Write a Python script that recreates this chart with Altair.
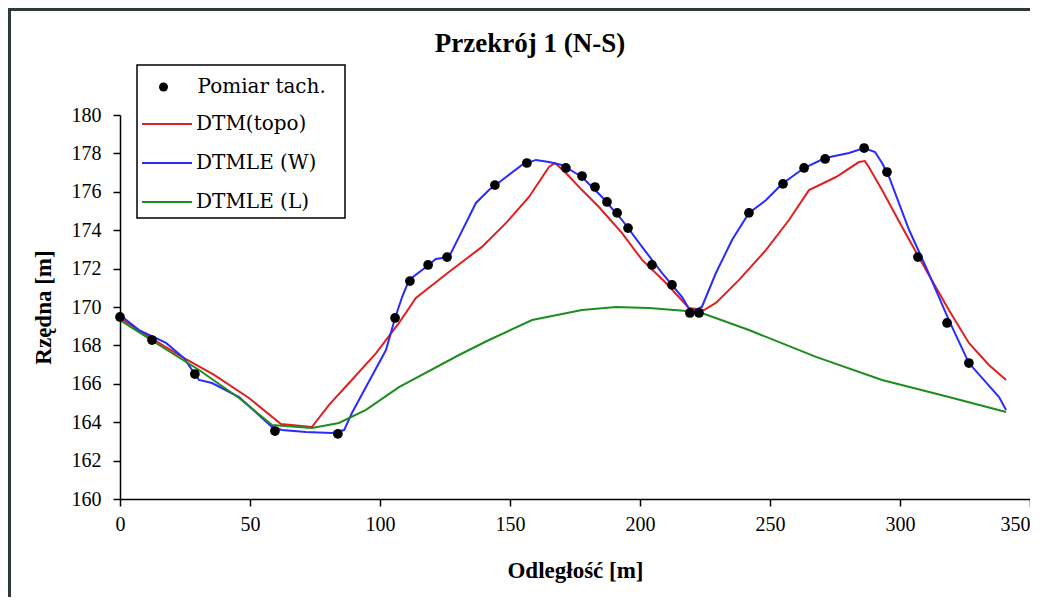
import altair as alt
import pandas as pd

title_text = "Przekrój 1 (N-S)"
x_title = "Odległość [m]"
y_title = "Rzędna [m]"
point_name = "Pomiar tach."
line_names = ["DTM(topo)", "DTMLE (W)", "DTMLE (L)"]
line_colors = ["#e02020", "#2a2aff", "#1e8c1e"]
x_ticks = [0, 50, 100, 150, 200, 250, 300, 350]
y_ticks = [160, 162, 164, 166, 168, 170, 172, 174, 176, 178, 180]

# Pomiar tach. (survey points)
pomiar_dist = [0, 12.3, 28.8, 59.6, 83.8, 105.8, 111.5, 118.5, 125.8, 144.2,
               156.5, 171.5, 177.7, 182.7, 187.3, 191.2, 195.4, 204.6, 212.3, 219.2,
               222.7, 241.9, 255.0, 263.1, 271.2, 286.2, 295.0, 306.9, 318.1, 326.5]
pomiar_elev = [169.48, 168.28, 166.51, 163.54, 163.39, 169.43, 171.35, 172.19, 172.6, 176.35,
               177.5, 177.24, 176.82, 176.25, 175.47, 174.9, 174.11, 172.19, 171.15, 169.69,
               169.69, 174.9, 176.41, 177.24, 177.71, 178.28, 177.03, 172.6, 169.17, 167.08]

# DTM(topo)
topo_dist = [0, 11.2, 23.8, 36.2, 49.6, 61.9, 73.8, 80.4, 88.1, 98.5,
             107.3, 113.8, 126.5, 139.2, 148.5, 157.3, 165.0, 167.3, 171.5, 177.7,
             184.2, 193.1, 200.8, 210.0, 218.8, 224.6, 229.2, 238.1, 248.5, 257.3,
             265.0, 275.4, 284.2, 286.5, 288.0, 293.1, 300.8, 310.0, 318.8, 326.5,
             334.2, 340.8]
topo_elev = [169.43, 168.44, 167.4, 166.46, 165.26, 163.9, 163.75, 164.9, 166.04, 167.6,
             169.17, 170.47, 171.82, 173.13, 174.38, 175.73, 177.29, 177.5, 176.98, 176.09,
             175.21, 173.85, 172.45, 171.25, 169.95, 169.84, 170.21, 171.41, 172.97, 174.53,
             176.09, 176.77, 177.55, 177.6, 177.29, 176.09, 174.17, 171.93, 169.84, 168.13,
             166.98, 166.2]

# DTMLE (W)
w_dist = [0, 7.3, 17.7, 24.6, 30.4, 35.4, 45.8, 58.5, 62.3, 71.5,
          81.5, 86.2, 89.2, 94.6, 102.3, 105.8, 108.5, 111.2, 117.7, 121.5,
          126.5, 130.4, 136.9, 141.9, 148.5, 154.6, 160.0, 165.0, 170.0, 177.7,
          185.4, 193.1, 200.8, 208.5, 216.2, 219.6, 223.8, 229.2, 235.4, 241.9,
          248.5, 254.6, 263.1, 271.2, 280.4, 286.2, 290.4, 293.1, 295.8, 303.5,
          310.0, 318.8, 326.5, 338.1, 340.8]
w_elev = [169.58, 168.8, 168.13, 167.34, 166.2, 166.04, 165.31, 163.75, 163.59, 163.49,
          163.44, 163.59, 164.48, 165.83, 167.76, 169.43, 170.52, 171.41, 172.08, 172.5,
          172.6, 173.65, 175.42, 176.09, 176.77, 177.4, 177.66, 177.55, 177.4, 176.77,
          175.73, 174.53, 173.13, 171.77, 170.52, 169.74, 170.0, 171.77, 173.49, 174.9,
          175.57, 176.41, 177.24, 177.76, 178.02, 178.28, 178.07, 177.5, 176.77, 174.01,
          172.08, 169.32, 167.08, 165.31, 164.64]

# DTMLE (L)
l_dist = [0, 15.0, 30.4, 45.8, 58.5, 73.8, 84.2, 94.6, 107.3, 130.4,
          141.9, 158.5, 177.7, 190.8, 203.5, 222.7, 241.9, 267.7, 293.1, 318.8,
          340.8]
l_elev = [169.32, 168.02, 166.72, 165.26, 163.85, 163.7, 163.96, 164.64, 165.83, 167.5,
          168.28, 169.32, 169.84, 170.0, 169.95, 169.74, 168.8, 167.4, 166.2, 165.31,
          164.53]

pts_df = pd.DataFrame({"dist": pomiar_dist, "elev": pomiar_elev, "series": point_name})
lines_df = pd.concat([
    pd.DataFrame({"dist": topo_dist, "elev": topo_elev, "series": line_names[0]}),
    pd.DataFrame({"dist": w_dist, "elev": w_elev, "series": line_names[1]}),
    pd.DataFrame({"dist": l_dist, "elev": l_elev, "series": line_names[2]}),
], ignore_index=True)

line_legend = alt.Legend(
    title=None, orient="none", legendX=21, legendY=-2, padding=0, rowPadding=18,
    symbolType="M-2,0H3", symbolSize=400, symbolOffset=10, labelOffset=23,
    symbolStrokeWidth=2, symbolFillColor="transparent",
    labelFont="DejaVu Serif", labelFontSize=20, labelColor="black",
)
point_legend = alt.Legend(
    title=None, orient="none", legendX=28, legendY=-38, padding=0,
    symbolType="circle", symbolSize=81, symbolOffset=5.5, labelOffset=24,
    symbolFillColor="black", symbolStrokeWidth=0, symbolOpacity=1,
    labelFont="DejaVu Serif", labelFontSize=20, labelColor="black",
)

x_enc = alt.X("dist:Q", scale=alt.Scale(domain=[0, 350], nice=False, zero=False),
              axis=alt.Axis(values=x_ticks, title=x_title, titlePadding=25, labelPadding=8,
                            labelAlign={"expr": "datum.value === 350 ? 'right' : 'center'"}))
y_enc = alt.Y("elev:Q", scale=alt.Scale(domain=[160, 180], nice=False, zero=False),
              axis=alt.Axis(values=y_ticks, title=y_title, titlePadding=16, labelPadding=12))

one = pd.DataFrame({"k": [0]})
frame_left = alt.Chart(one).mark_rule(color="#2c3a3a", strokeWidth=3).encode(
    x=alt.value(-110.5), y=alt.value(-107), y2=alt.value(520))
frame_top = alt.Chart(one).mark_rule(color="#2c3a3a", strokeWidth=3).encode(
    x=alt.value(-112), x2=alt.value(940), y=alt.value(-105.5))
legend_box = alt.Chart(one).mark_rect(
    fill="white", stroke="black", strokeWidth=1.5
).encode(x=alt.value(17), x2=alt.value(225), y=alt.value(-50), y2=alt.value(103))

lines = alt.Chart(lines_df).mark_line(strokeWidth=2).encode(
    x=x_enc, y=y_enc,
    color=alt.Color("series:N", scale=alt.Scale(domain=line_names, range=line_colors), legend=line_legend),
    order="dist:Q",
)
points = alt.Chart(pts_df).mark_point(filled=True, size=95, opacity=1, color="black").encode(
    x=x_enc, y=y_enc,
    shape=alt.Shape("series:N", scale=alt.Scale(domain=[point_name], range=["circle"]), legend=point_legend),
)

chart = alt.layer(frame_left, frame_top, legend_box, lines, points).properties(
    width=910, height=384,
    title=alt.Title(title_text, font="Liberation Serif", fontSize=27, fontWeight="bold",
                    color="black", anchor="middle", frame="group", dx=-45, offset=-51),
    autosize=alt.AutoSizeParams(type="none"),
    padding={"left": 112, "top": 107, "right": 0, "bottom": 98},
).resolve_legend(color="independent", shape="independent").configure_view(stroke=None).configure_axis(
    grid=False, domainColor="black", domainWidth=1.5, tickColor="black", tickWidth=1.5,
    tickSize=7, labelFont="Liberation Serif", labelFontSize=20, labelColor="black",
    titleFont="Liberation Serif", titleFontSize=23, titleFontWeight="bold", titleColor="black",
    labelOverlap=False, labelFlush=False
)

chart.save("out.html", embed_options={"renderer": "svg", "actions": False})
